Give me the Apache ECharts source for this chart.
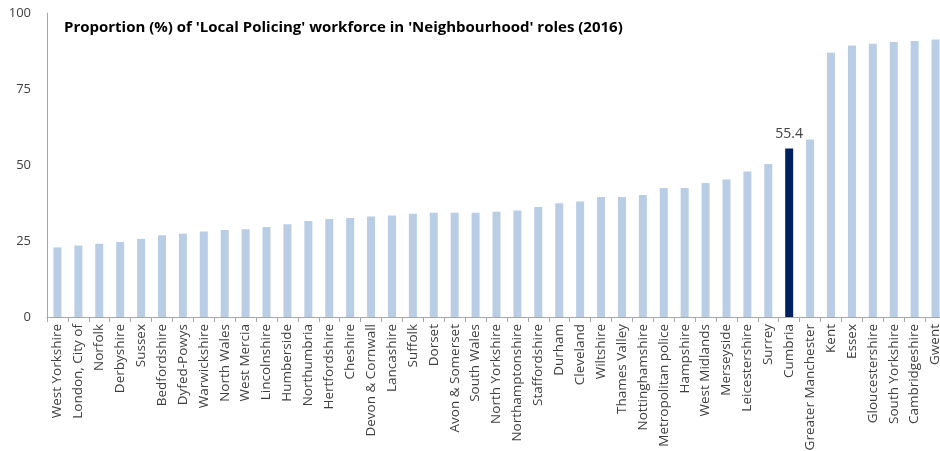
<!DOCTYPE html>
<html>
<head>
<meta charset="utf-8">
<script src="https://cdn.jsdelivr.net/npm/echarts@6/dist/echarts.min.js"></script>
<style>
  html, body { margin: 0; padding: 0; background: #fff; overflow: hidden; }
  #chart { width: 940px; height: 451px; }
</style>
</head>
<body>
<div id="chart"></div>
<script>
// Police force areas, ordered by share of local policing staff in neighbourhood roles
const forces = [
  'West Yorkshire', 'London, City of', 'Norfolk', 'Derbyshire', 'Sussex',
  'Bedfordshire', 'Dyfed-Powys', 'Warwickshire', 'North Wales', 'West Mercia',
  'Lincolnshire', 'Humberside', 'Northumbria', 'Hertfordshire', 'Cheshire',
  'Devon & Cornwall', 'Lancashire', 'Suffolk', 'Dorset', 'Avon & Somerset',
  'South Wales', 'North Yorkshire', 'Northamptonshire', 'Staffordshire', 'Durham',
  'Cleveland', 'Wiltshire', 'Thames Valley', 'Nottinghamshire', 'Metropolitan police',
  'Hampshire', 'West Midlands', 'Merseyside', 'Leicestershire', 'Surrey',
  'Cumbria', 'Greater Manchester', 'Kent', 'Essex', 'Gloucestershire',
  'South Yorkshire', 'Cambridgeshire', 'Gwent'
];

// Proportion (%) of the local policing workforce in neighbourhood roles, 2016
const proportion = [
  22.9, 23.5, 24.1, 24.7, 25.7,
  26.9, 27.4, 28.1, 28.6, 28.9,
  29.6, 30.5, 31.6, 32.2, 32.6,
  33.1, 33.4, 34.0, 34.3, 34.3,
  34.3, 34.6, 35.0, 36.2, 37.4,
  38.0, 39.5, 39.5, 40.1, 42.4,
  42.4, 44.1, 45.2, 47.9, 50.3,
  55.4, 58.4, 86.9, 89.3, 89.9,
  90.5, 90.8, 91.3
];

const highlighted = 'Cumbria';
const yTicks = [0, 25, 50, 75, 100];

const LIGHT = '#B9CDE5';
const DARK = '#002060';
const TEXT = '#404040';
const AXIS = '#A6A6A6';

const chart = echarts.init(document.getElementById('chart'), null, { renderer: 'canvas' });

chart.setOption({
  animation: false,
  backgroundColor: '#ffffff',
  title: {
    text: "Proportion (%) of 'Local Policing' workforce in 'Neighbourhood' roles (2016)",
    left: 59,
    top: 15,
    textStyle: {
      fontFamily: 'Open Sans',
      fontWeight: 'bold',
      fontSize: 15,
      color: '#000000'
    }
  },
  // the plot runs slightly past the right edge of the canvas, clipping the last bar's band
  grid: {
    left: 47,
    top: 13,
    width: 899,
    height: 304,
    outerBoundsMode: 'none',
    containLabel: false
  },
  xAxis: {
    type: 'category',
    data: forces,
    axisLine: { lineStyle: { color: AXIS, width: 1 } },
    axisTick: { show: true, alignWithLabel: false, length: 5, lineStyle: { color: AXIS } },
    axisLabel: {
      rotate: 90,
      interval: 0,
      margin: 7,
      fontFamily: 'Open Sans',
      fontSize: 13.5,
      color: TEXT
    }
  },
  yAxis: {
    type: 'value',
    min: yTicks[0],
    max: yTicks[yTicks.length - 1],
    interval: yTicks[1] - yTicks[0],
    axisLine: { show: true, lineStyle: { color: AXIS, width: 1 } },
    axisTick: { show: false },
    splitLine: { show: false },
    axisLabel: {
      margin: 16,
      fontFamily: 'Open Sans',
      fontSize: 13,
      color: TEXT
    }
  },
  series: [{
    type: 'bar',
    barWidth: 8,
    data: forces.map((name, i) => ({
      value: proportion[i],
      itemStyle: { color: name === highlighted ? DARK : LIGHT },
      label: name === highlighted ? {
        show: true,
        position: 'top',
        distance: 8,
        formatter: '{c}',
        fontFamily: 'Open Sans',
        fontSize: 14,
        color: TEXT
      } : { show: false }
    }))
  }]
});
</script>
</body>
</html>
